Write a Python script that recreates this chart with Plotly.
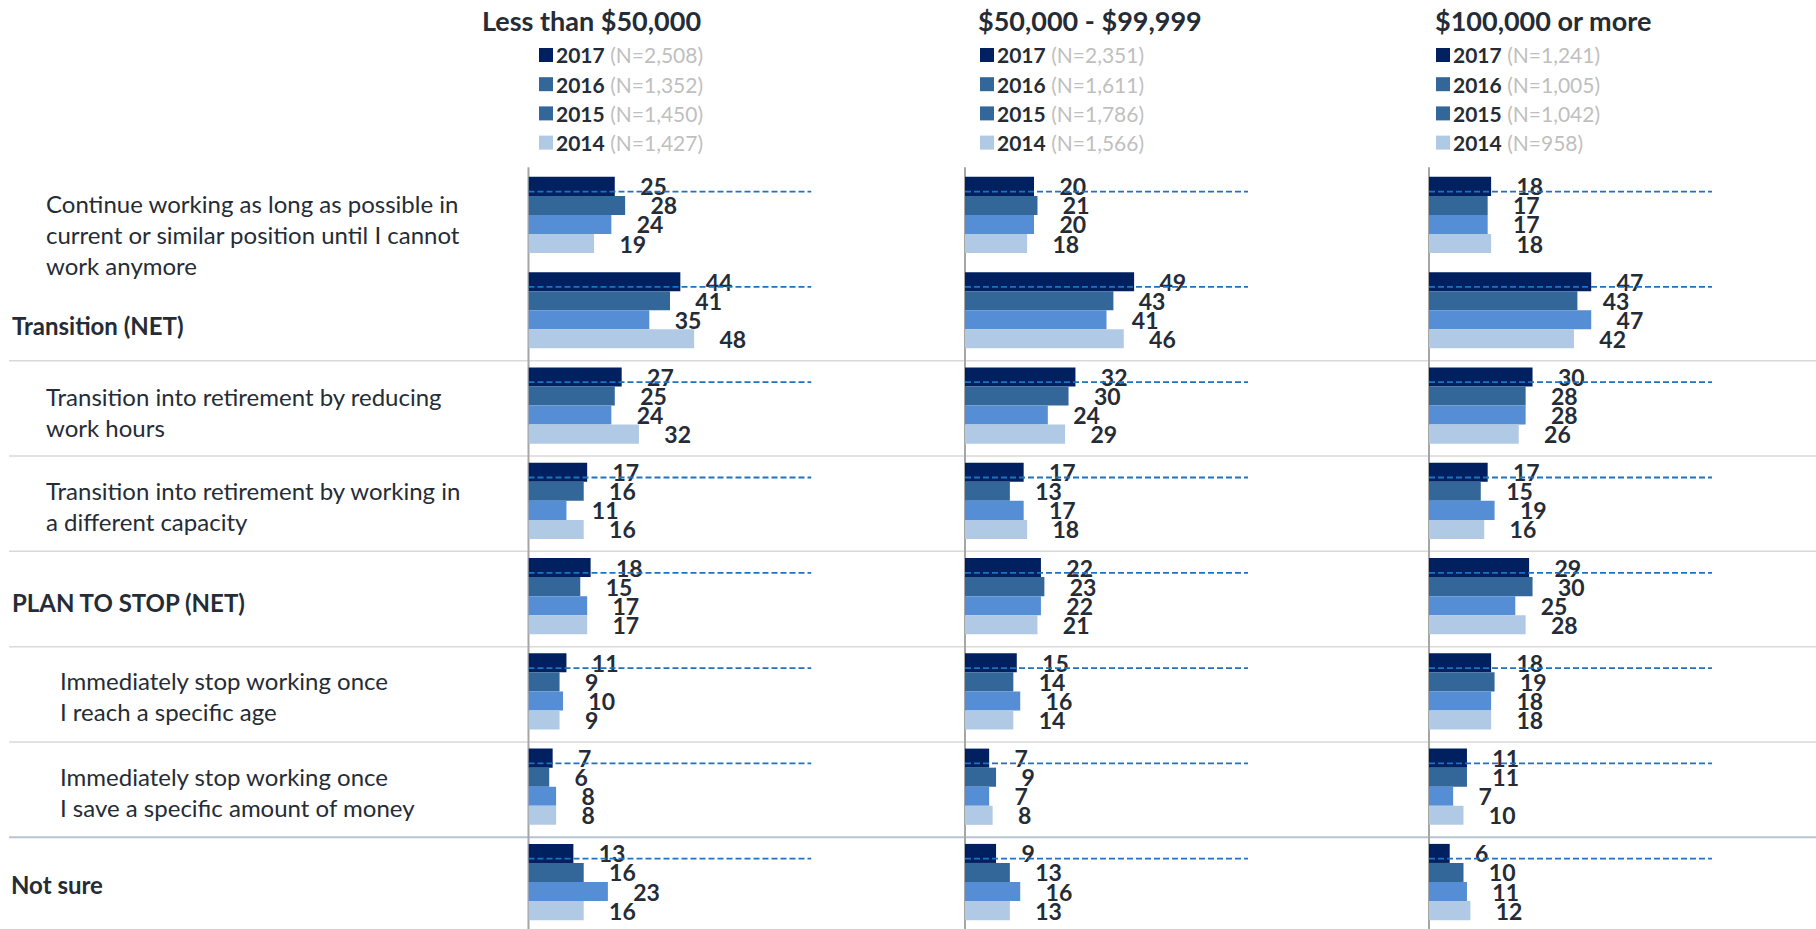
import plotly.graph_objects as go

W, H = 1816, 929
FONT = "Lato"
TEXT = "#252C36"

CATEGORIES = [
    "Continue working as long as possible in<br>current or similar position until I cannot<br>work anymore",
    "<b>Transition (NET)</b>",
    "Transition into retirement by reducing<br>work hours",
    "Transition into retirement by working in<br>a different capacity",
    "<b>PLAN TO STOP (NET)</b>",
    "Immediately stop working once<br>I reach a specific age",
    "Immediately stop working once<br>I save a specific amount of money",
    "<b>Not sure</b>",
]
YEARS = ["2017", "2016", "2015", "2014"]
PANELS = ["Less than $50,000", "$50,000 - $99,999", "$100,000 or more"]

# % by income group, one list per year
LT50_2017 = [25, 44, 27, 17, 18, 11, 7, 13]
LT50_2016 = [28, 41, 25, 16, 15, 9, 6, 16]
LT50_2015 = [24, 35, 24, 11, 17, 10, 8, 23]
LT50_2014 = [19, 48, 32, 16, 17, 9, 8, 16]

MID_2017 = [20, 49, 32, 17, 22, 15, 7, 9]
MID_2016 = [21, 43, 30, 13, 23, 14, 9, 13]
MID_2015 = [20, 41, 24, 17, 22, 16, 7, 16]
MID_2014 = [18, 46, 29, 18, 21, 14, 8, 13]

HI_2017 = [18, 47, 30, 17, 29, 18, 11, 6]
HI_2016 = [17, 43, 28, 15, 30, 19, 11, 10]
HI_2015 = [17, 47, 28, 19, 25, 18, 7, 11]
HI_2014 = [18, 42, 26, 16, 28, 18, 10, 12]

N_LT50 = ["2,508", "1,352", "1,450", "1,427"]
N_MID = ["2,351", "1,611", "1,786", "1,566"]
N_HI = ["1,241", "1,005", "1,042", "958"]

BAR_COLORS = ["#002060", "#336699", "#558ED5", "#B0C9E4"]
SWATCH_COLORS = ["#002060", "#336699", "#336699", "#B0C9E4"]

panel_values = [
    [LT50_2017, LT50_2016, LT50_2015, LT50_2014],
    [MID_2017, MID_2016, MID_2015, MID_2014],
    [HI_2017, HI_2016, HI_2015, HI_2014],
]
panel_ns = [N_LT50, N_MID, N_HI]

# layout in pixels
AXIS_X = [528.5, 965, 1429]
PANEL_W = 283
X_MAX = 82
PLOT_TOP = 167.3
HEADER_X = [480, 976, 1433]
SWATCH_X = [539, 980, 1436]


def px(x):
    return x / W


def py(y):
    return 1 - y / H


fig = go.Figure()
cat_idx = list(range(len(CATEGORIES)))

for p, vals in enumerate(panel_values):
    xa = "x" if p == 0 else f"x{p + 1}"
    for k, year in enumerate(YEARS):
        fig.add_trace(go.Bar(
            x=vals[k], y=cat_idx, orientation="h", name=year,
            marker=dict(color=BAR_COLORS[k], line=dict(width=0)),
            text=vals[k], texttemplate="\u00a0\u00a0\u00a0\u00a0%{x}",
            textposition="outside", constraintext="none", cliponaxis=False,
            textfont=dict(family=FONT, size=23, color=TEXT, weight="bold"),
            xaxis=xa, yaxis="y", showlegend=False, hoverinfo="skip",
        ))

layout = dict(
    width=W, height=H, margin=dict(l=0, r=0, t=0, b=0),
    plot_bgcolor="white", paper_bgcolor="white",
    barmode="group", bargap=0.2, bargroupgap=0,
    font=dict(family=FONT, color=TEXT),
    yaxis=dict(range=[7.493, -0.5], domain=[0, py(PLOT_TOP)],
               showticklabels=False, showgrid=False, zeroline=False,
               showline=False, fixedrange=True),
)
for p in range(3):
    key = "xaxis" if p == 0 else f"xaxis{p + 1}"
    layout[key] = dict(
        domain=[px(AXIS_X[p]), px(AXIS_X[p] + PANEL_W)], range=[0, X_MAX],
        visible=False, fixedrange=True,
        anchor="y",
    )
fig.update_layout(**layout)

shapes = []
# separators between rows
for i in range(1, 7):
    last = i == 6
    shapes.append(dict(
        type="line", xref="paper", yref="y", x0=0.005, x1=1, y0=i + 0.53, y1=i + 0.53,
        line=dict(color="#B8C4CF" if last else "#D9D9D9", width=2 if last else 1.5),
        layer="below",
    ))
for p in range(3):
    # vertical axis line
    shapes.append(dict(
        type="line", xref="paper", yref="paper", x0=px(AXIS_X[p]), x1=px(AXIS_X[p]),
        y0=0, y1=py(PLOT_TOP), line=dict(color="#A6A6A6", width=2), layer="below",
    ))
    xa = "x" if p == 0 else f"x{p + 1}"
    for i in cat_idx:
        shapes.append(dict(
            type="line", xref=xa, yref="y", x0=0, x1=X_MAX, y0=i - 0.245, y1=i - 0.245,
            line=dict(color="#1F72C0", width=1.8, dash="6px,3px"), layer="above",
        ))
    for k in range(4):
        yc = 55 + 29.2 * k
        shapes.append(dict(
            type="rect", xref="paper", yref="paper",
            x0=px(SWATCH_X[p]), x1=px(SWATCH_X[p] + 14),
            y0=py(yc - 7), y1=py(yc + 7),
            fillcolor=SWATCH_COLORS[k], line=dict(width=0),
        ))

annotations = []
LABEL_X = [44, 10, 44, 44, 10, 58, 58, 9]
LABEL_SHIFT = [-20, -15, -6, -5, -6, -5, -5, -2]
for i, lab in enumerate(CATEGORIES):
    annotations.append(dict(
        text=lab, xref="paper", yref="y", x=px(LABEL_X[i]), y=i, yshift=LABEL_SHIFT[i],
        xanchor="left", yanchor="middle", align="left", showarrow=False,
        font=dict(family=FONT, size=24, color=TEXT),
    ))
for p, title in enumerate(PANELS):
    annotations.append(dict(
        text=f"<b>{title}</b>", xref="paper", yref="paper",
        x=px(HEADER_X[p]), y=py(20), xanchor="left", yanchor="middle",
        showarrow=False, font=dict(family=FONT, size=27, color=TEXT),
    ))
    for k, year in enumerate(YEARS):
        yc = 55 + 29.2 * k
        annotations.append(dict(
            text=f"<b>{year}</b> <span style='color:#BFBFBF'>(N={panel_ns[p][k]})</span>",
            xref="paper", yref="paper", x=px(SWATCH_X[p] + 15), y=py(yc),
            xanchor="left", yanchor="middle", showarrow=False,
            font=dict(family=FONT, size=21, color=TEXT),
        ))

fig.update_layout(shapes=shapes, annotations=annotations)
fig.write_html("out.html", config={"displayModeBar": False},
               post_script="document.body.style.margin='0';")
